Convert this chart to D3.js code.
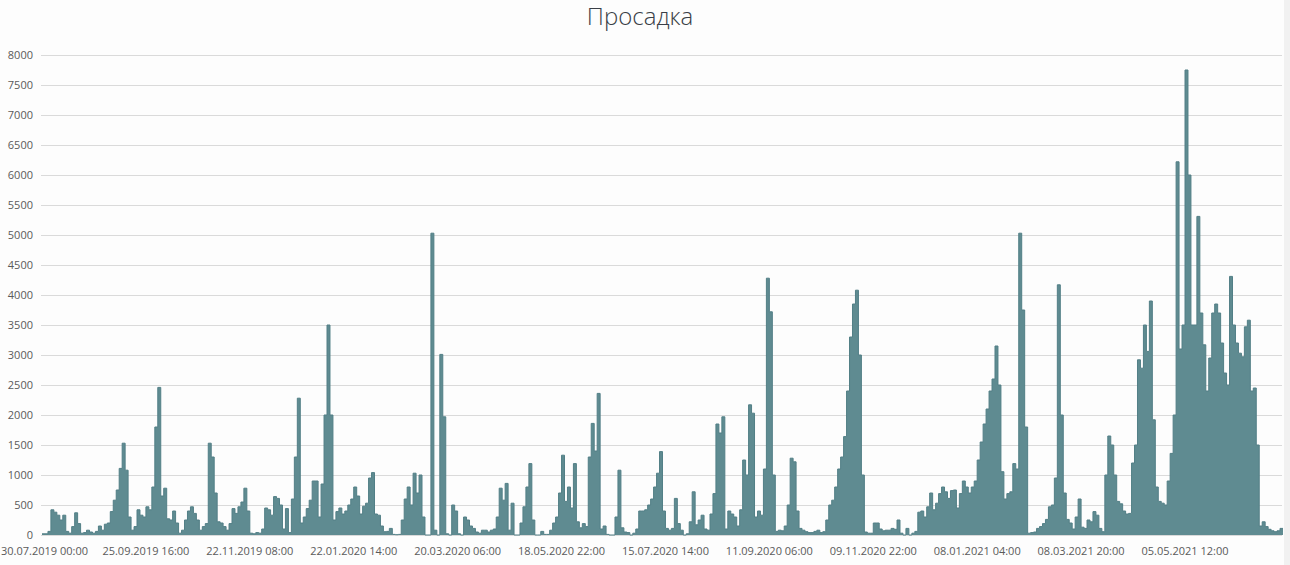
<!DOCTYPE html>
<meta charset="utf-8">
<style>
html, body {
  margin: 0;
  background: #fdfdfd;
}

text {
  font-family: "Open Sans", sans-serif;
}

.grid line {
  stroke: #dadada;
  stroke-width: 1px;
}

.axis-label {
  fill: #5a5a5a;
  font-size: 11px;
}

.bars {
  fill: #5f8b91;
}

.bars-edge {
  fill: none;
  stroke: #527f86;
  stroke-width: 1px;
}
</style>

<svg></svg>

<script src="https://d3js.org/d3.v7.min.js"></script>
<script>

var title = 'Просадка';

// labels shown under every 35th point
var tickLabels = [
  '30.07.2019 00:00', '25.09.2019 16:00', '22.11.2019 08:00', '22.01.2020 14:00',
  '20.03.2020 06:00', '18.05.2020 22:00', '15.07.2020 14:00', '11.09.2020 06:00',
  '09.11.2020 22:00', '08.01.2021 04:00', '08.03.2021 20:00', '05.05.2021 12:00'
];
var tickEvery = 35;

var yTicks = d3.range(0, 8001, 500);

// drawdown values, one per point
var drawdown = [
  20, 20, 60, 420, 380, 330, 250, 330, 60, 30,
  140, 370, 190, 30, 40, 80, 50, 30, 60, 150,
  80, 180, 200, 390, 580, 750, 1110, 1530, 1080, 300,
  80, 140, 420, 330, 300, 470, 420, 800, 1800, 2460,
  650, 780, 270, 250, 400, 200, 30, 80, 250, 400,
  470, 360, 250, 80, 140, 190, 1530, 1300, 700, 220,
  200, 140, 80, 190, 440, 360, 470, 550, 780, 400,
  30, 20, 40, 30, 100, 450, 420, 330, 640, 610,
  500, 100, 440, 40, 600, 1300, 2280, 200, 300, 440,
  580, 900, 900, 300, 850, 2000, 3500, 2000, 250, 390,
  450, 350, 400, 500, 600, 800, 650, 350, 480, 530,
  950, 1040, 350, 330, 150, 55, 60, 110, 10, 5,
  10, 250, 600, 800, 500, 1030, 700, 1000, 300, 0,
  0, 5030, 80, 0, 3010, 1970, 20, 0, 500, 400,
  20, 0, 300, 250, 150, 110, 50, 30, 80, 80,
  50, 80, 100, 300, 780, 580, 860, 80, 530, 0,
  0, 200, 470, 800, 1190, 250, 0, 0, 60, 10,
  10, 80, 200, 300, 700, 1330, 560, 800, 450, 1190,
  220, 120, 190, 140, 1300, 1860, 1400, 2360, 100, 150,
  10, 0, 0, 300, 1080, 120, 50, 40, 0, 30,
  100, 400, 400, 420, 500, 600, 800, 1030, 1390, 400,
  110, 80, 110, 610, 190, 80, 0, 20, 220, 720,
  170, 250, 330, 100, 80, 350, 690, 1850, 1700, 1970,
  100, 400, 350, 300, 150, 420, 1250, 1000, 2170, 2030,
  300, 400, 330, 1100, 4280, 3720, 1000, 60, 80, 70,
  150, 500, 1280, 1220, 400, 110, 80, 55, 40, 40,
  60, 80, 40, 55, 250, 500, 580, 800, 1100, 1300,
  1640, 2400, 3300, 3850, 4080, 3000, 1000, 50, 30, 30,
  200, 200, 100, 70, 80, 80, 110, 95, 250, 30,
  0, 110, 0, 30, 60, 380, 400, 300, 470, 700,
  420, 530, 690, 800, 720, 610, 740, 750, 450, 690,
  900, 800, 700, 800, 900, 1250, 1550, 1850, 2100, 2400,
  2600, 3150, 2500, 1055, 600, 690, 720, 1190, 1100, 5030,
  3750, 1800, 30, 40, 50, 110, 140, 190, 260, 470,
  500, 950, 4170, 2000, 700, 260, 200, 100, 300, 600,
  130, 110, 250, 220, 390, 330, 110, 55, 1000, 1650,
  1500, 1000, 560, 520, 400, 350, 360, 1200, 1500, 2920,
  2780, 3500, 3060, 3900, 1920, 800, 560, 530, 500, 900,
  1360, 2000, 6220, 3100, 3500, 7750, 6000, 3500, 3500, 5310,
  3700, 3170, 2400, 2950, 3700, 3850, 3700, 3200, 2700, 2500,
  4310, 3500, 3200, 3030, 2970, 3470, 3580, 2400, 2450, 1500,
  150, 220, 140, 95, 70, 55, 70, 110
];

var width = 1290;
var height = 565;
var plotLeft = 42;
var plotRight = 1282;

var svg = d3.select('svg')
  .attr('width', width)
  .attr('height', height);

var n = drawdown.length;

// first label sits on point 0, last label on point 11*35
var x = d3.scaleLinear()
  .domain([0, (tickLabels.length - 1) * tickEvery])
  .range([plotLeft, 1185]);

var y = d3.scaleLinear()
  .domain([0, 8000])
  .range([535, 55]);

// faint strip at the right border
svg.append('rect')
  .attr('x', 1284)
  .attr('y', 0)
  .attr('width', width - 1284)
  .attr('height', height)
  .style('fill', '#f1f1f1');

// title
svg.append('text')
  .attr('x', 640)
  .attr('y', 25)
  .attr('text-anchor', 'middle')
  .style('font-size', '24px')
  .style('font-weight', 300)
  .style('fill', '#3a3f47')
  .text(title);

// horizontal grid
svg.append('g')
  .attr('class', 'grid')
  .selectAll('line').data(yTicks)
  .enter().append('line')
  .attr('x1', plotLeft - 1)
  .attr('x2', plotRight)
  .attr('y1', function (d) { return Math.round(y(d)) + 0.5; })
  .attr('y2', function (d) { return Math.round(y(d)) + 0.5; });

// y labels
svg.append('g')
  .selectAll('text').data(yTicks)
  .enter().append('text')
  .attr('class', 'axis-label')
  .attr('x', 33)
  .attr('y', function (d) { return y(d); })
  .attr('dy', '0.35em')
  .attr('text-anchor', 'end')
  .text(function (d) { return d; });

// x labels, centred on their point but kept inside the page
svg.append('g')
  .selectAll('text').data(tickLabels)
  .enter().append('text')
  .attr('class', 'axis-label')
  .attr('y', 555)
  .attr('text-anchor', 'middle')
  .text(function (d) { return d; })
  .attr('x', function (d, i) {
    var half = this.getComputedTextLength() / 2;
    return Math.max(x(i * tickEvery), half + 1);
  });

// columns drawn as one stepped area so neighbours do not leave seams
var points = drawdown.map(function (d, i) { return [i, d]; });
points.push([n, drawdown[n - 1]]);

var area = d3.area()
  .curve(d3.curveStepAfter)
  .x(function (d) { return x(d[0]); })
  .y0(y(0))
  .y1(function (d) { return y(d[1]); });

var edge = d3.line()
  .curve(d3.curveStepAfter)
  .x(function (d) { return x(d[0]); })
  .y(function (d) { return y(d[1]); });

svg.append('path')
  .datum(points)
  .attr('class', 'bars')
  .attr('d', area);

svg.append('path')
  .datum(points)
  .attr('class', 'bars-edge')
  .attr('d', edge);

</script>
